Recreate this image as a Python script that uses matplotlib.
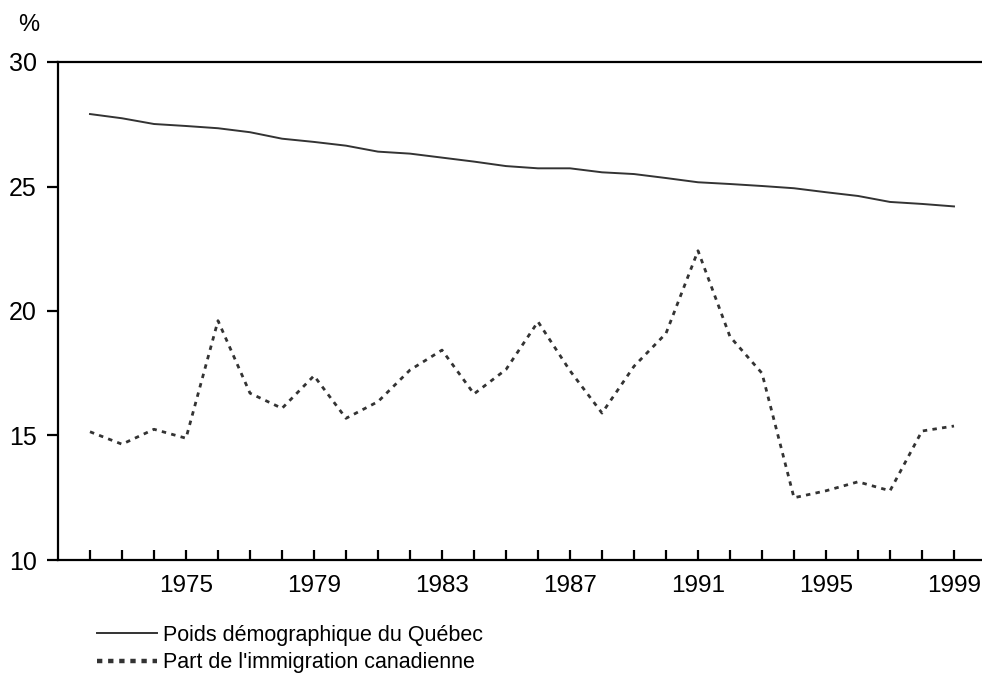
import matplotlib.pyplot as plt
from matplotlib.lines import Line2D

plt.rcParams["font.family"] = ["Liberation Sans", "DejaVu Sans"]

# Data
years = list(range(1972, 2000))
poids_quebec = [27.91, 27.74, 27.51, 27.43, 27.34, 27.18, 26.92, 26.79, 26.64, 26.40,
                26.32, 26.16, 26.00, 25.82, 25.73, 25.73, 25.57, 25.50, 25.34, 25.17,
                25.10, 25.02, 24.93, 24.77, 24.62, 24.38, 24.30, 24.20]
part_immigration = [15.15, 14.65, 15.25, 14.89, 19.61, 16.70, 16.09, 17.40, 15.69, 16.36,
                    17.63, 18.43, 16.67, 17.65, 19.57, 17.60, 15.90, 17.78, 19.10, 22.42,
                    18.97, 17.50, 12.50, 12.78, 13.14, 12.78, 15.18, 15.38]
label_years = [1975, 1979, 1983, 1987, 1991, 1995, 1999]
y_ticks = [10, 15, 20, 25, 30]

fig = plt.figure(figsize=(9.82, 6.82), dpi=100)
ax = fig.add_axes([57.5 / 982, 1 - 560 / 682, 1 - 57.5 / 982, (560 - 62) / 682])

line_color = "#333333"
ax.plot(years, poids_quebec, color=line_color, lw=1.4, solid_joinstyle="round")
ax.plot(years, part_immigration, color=line_color, lw=2.0, dashes=(1.6, 1.9))

ax.set_xlim(1972 - 32.5 / 32, 1972 + 892 / 32)
ax.set_ylim(10, 30)

ax.spines["right"].set_visible(False)
for s in ["left", "bottom", "top"]:
    ax.spines[s].set_linewidth(1.6)
    ax.spines[s].set_color("black")

ax.set_yticks(y_ticks)
ax.tick_params(axis="y", direction="out", length=8, width=1.6, labelsize=18, pad=7)

ax.set_xticks(years)
ax.set_xticklabels([str(y) if y in label_years else "" for y in years])
ax.tick_params(axis="x", direction="in", length=7, width=1.6, labelsize=17.5, pad=11)

fig.text(0.0295, 0.963, "%", fontsize=17, ha="center", va="center")

handles = [
    Line2D([], [], color=line_color, lw=1.4),
    Line2D([], [], color=line_color, lw=3.2, dashes=(1.2, 1.3)),
]
labels = ["Poids démographique du Québec", "Part de l'immigration canadienne"]
fig.legend(handles, labels, loc="upper left", bbox_to_anchor=(0.099, 0.0836),
           frameon=False, fontsize=15.5, handlelength=2.8, handletextpad=0.25,
           labelspacing=0.3, borderpad=0, borderaxespad=0)

fig.savefig("out.png", dpi=100)
